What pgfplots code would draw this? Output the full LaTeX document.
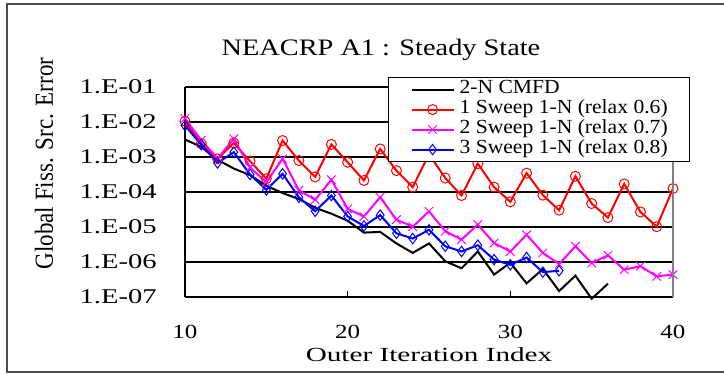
\documentclass[border=0pt]{standalone}
\usepackage{fontspec}
\setmainfont{Liberation Serif}
\usepackage{graphicx}
\usepackage{pgfplots}
\pgfplotsset{compat=1.18}
\definecolor{mag}{RGB}{255,0,255}
\definecolor{rd}{RGB}{255,0,0}
\definecolor{bl}{RGB}{0,0,255}
\newcommand\sx[1]{\scalebox{1.25}[1]{#1}}
\newcommand\sy[1]{\scalebox{1.36}[1]{#1}}
\newcommand\lgd[1]{\scalebox{1.08}[1]{#1}}
\begin{document}
\begin{tikzpicture}
\path[use as bounding box] (0,0) rectangle (362pt,188pt);
\begin{scope}
\clip (0,0) rectangle (362pt,188pt);
\draw[black!70, line width=1pt] (3.5pt,2pt) rectangle (380pt,186pt);
\end{scope}
\begin{axis}[
  at={(92.5pt,39.5pt)}, anchor=south west,
  width=244pt, height=105pt, scale only axis,
  xmin=10, xmax=40, ymode=log, ymin=1e-7, ymax=1e-1,
  xtick={10,20,30,40}, xticklabels={\sx{10},\sx{20},\sx{30},\sx{40}},
  ytick={1e-7,1e-6,1e-5,1e-4,1e-3,1e-2,1e-1},
  yticklabels={\sy{1.E-07},\sy{1.E-06},\sy{1.E-05},\sy{1.E-04},\sy{1.E-03},\sy{1.E-02},\sy{1.E-01}},
  yminorticks=false,
  ymajorgrids, major grid style={black, line width=0.55pt},
  axis x line*=bottom, axis y line*=left,
  axis line style={black, line width=0.9pt, -},
  tick align=inside, major tick length=3pt, tick style={black, line width=0.6pt},
  xticklabel style={anchor=north, inner sep=0pt, yshift=-14pt, font=\fontsize{10}{10}\selectfont},
  yticklabel style={anchor=east, inner sep=0pt, xshift=-14pt, font=\fontsize{10.5}{10.5}\selectfont},
  clip=false,
  legend cell align=left,
  legend style={at={(0.416,1.0476)}, anchor=north west, draw=black, line width=0.6pt, fill=white,
    inner xsep=11pt, inner ysep=1pt, row sep=0pt, column sep=2.5pt,
    nodes={inner sep=0pt, text height=7pt, text depth=3pt, font=\fontsize{10}{10}\selectfont, anchor=west}},
  legend image code/.code={\draw[mark repeat=2, mark phase=2, #1] plot coordinates {(0pt,0pt) (10.5pt,0pt) (21pt,0pt)};},
  after end axis/.code={\draw[gray, line width=0.6pt] (rel axis cs:1,0) -- (rel axis cs:1,1);},
]
\addplot[black, line width=1pt, mark=none] table {
10 3.16e-3
11 1.95e-3
12 8.32e-4
13 4.68e-4
14 3.02e-4
15 1.51e-4
16 9.33e-5
17 6.31e-5
18 3.55e-5
19 2.40e-5
20 1.51e-5
21 6.92e-6
22 7.24e-6
23 3.39e-6
24 1.82e-6
25 3.39e-6
26 1.05e-6
27 6.61e-7
28 2.00e-6
29 4.37e-7
30 9.55e-7
31 2.45e-7
32 6.31e-7
33 1.48e-7
34 4.07e-7
35 8.91e-8
36 2.40e-7
};
\addlegendentry{\lgd{2-N CMFD}}
\addplot[rd, line width=1pt, mark=o, mark size=2.5pt, mark options={solid, line width=0.5pt}] table {
10 1.05e-2
11 2.40e-3
12 8.91e-4
13 2.51e-3
14 7.59e-4
15 2.40e-4
16 2.95e-3
17 7.94e-4
18 2.69e-4
19 2.29e-3
20 7.08e-4
21 2.14e-4
22 1.70e-3
23 4.07e-4
24 1.38e-4
25 1.20e-3
26 2.51e-4
27 7.94e-5
28 6.46e-4
29 1.38e-4
30 5.25e-5
31 3.47e-4
32 8.13e-5
33 3.02e-5
34 2.82e-4
35 4.68e-5
36 1.86e-5
37 1.70e-4
38 2.69e-5
39 1.02e-5
40 1.26e-4
};
\addlegendentry{\lgd{1 Sweep 1-N (relax 0.6)}}
\addplot[mag, line width=1pt, mark=x, mark size=3pt, mark options={solid, line width=0.5pt}] table {
10 1.26e-2
11 3.02e-3
12 9.12e-4
13 3.31e-3
14 5.01e-4
15 1.91e-4
16 8.91e-4
17 1.12e-4
18 6.03e-5
19 2.24e-4
20 3.31e-5
21 2.00e-5
22 7.08e-5
23 1.62e-5
24 1.02e-5
25 2.82e-5
26 7.59e-6
27 4.37e-6
28 1.17e-5
29 3.47e-6
30 2.00e-6
31 6.03e-6
32 1.82e-6
33 8.71e-7
34 2.82e-6
35 9.33e-7
36 1.55e-6
37 6.03e-7
38 7.59e-7
39 3.89e-7
40 4.37e-7
};
\addlegendentry{\lgd{2 Sweep 1-N (relax 0.7)}}
\addplot[bl, line width=1pt, mark=diamond, mark size=2.6pt, mark options={solid, line width=0.5pt}] table {
10 7.94e-3
11 2.24e-3
12 6.76e-4
13 1.38e-3
14 3.16e-4
15 1.15e-4
16 3.31e-4
17 7.08e-5
18 2.82e-5
19 7.94e-5
20 2.00e-5
21 1.07e-5
22 2.19e-5
23 6.61e-6
24 4.68e-6
25 8.32e-6
26 2.82e-6
27 2.00e-6
28 3.02e-6
29 1.17e-6
30 8.32e-7
31 1.35e-6
32 5.13e-7
33 5.62e-7
};
\addlegendentry{\lgd{3 Sweep 1-N (relax 0.8)}}
\end{axis}
\node at (190.5pt,163.25pt) {\fontsize{11.8}{11.8}\selectfont\scalebox{1.2}[1]{NEACRP A1 : Steady State}};
\node at (214.5pt,10.5pt) {\fontsize{10}{10}\selectfont\scalebox{1.46}[1]{Outer Iteration Index}};
\node[rotate=90] at (22pt,106.25pt) {\fontsize{10}{10}\selectfont\scalebox{1.15}[1.3]{Global Fiss. Src. Error}};
\end{tikzpicture}
\end{document}
